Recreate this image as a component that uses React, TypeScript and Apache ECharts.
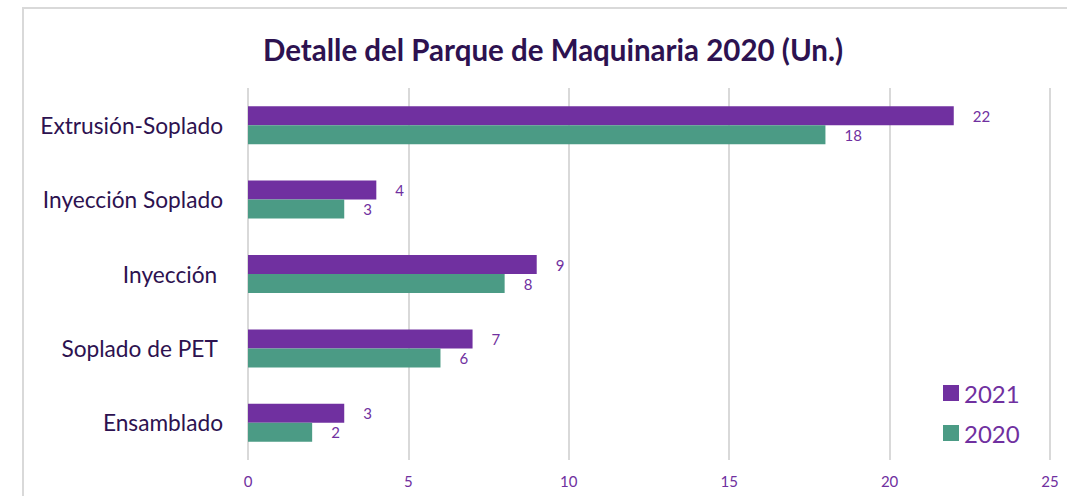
import React, { useEffect, useRef } from "react";
import * as echarts from "echarts";

const titleText = "Detalle del Parque de Maquinaria 2020 (Un.)";
const categories = ["Extrusión-Soplado", "Inyección Soplado", "Inyección ", "Soplado de PET ", "Ensamblado"];
const values2021 = [22, 4, 9, 7, 3];
const values2020 = [18, 3, 8, 6, 2];
const seriesNames = ["2021", "2020"];
const xTicks = { min: 0, max: 25, interval: 5 };

const PURPLE = "#7030a0";
const GREEN = "#4b9b85";
const FONT = "Lato, 'Noto Sans', sans-serif";

export default function App() {
  const ref = useRef<HTMLDivElement>(null);
  useEffect(() => {
    if (!ref.current) return;
    const chart = echarts.init(ref.current, undefined, { renderer: "svg" });
    const labelStyle = {
      show: true,
      position: "right" as const,
      distance: 19,
      color: PURPLE,
      fontSize: 15,
      fontFamily: FONT,
    };
    chart.setOption({
      animation: false,
      backgroundColor: "#ffffff",
      textStyle: { fontFamily: FONT },
      title: {
        text: titleText,
        left: 548,
        top: 29,
        textAlign: "center",
        textStyle: { color: "#2d1250", fontSize: 29.5, fontWeight: "bold", fontFamily: FONT },
      },
      graphic: [
        {
          type: "rect",
          shape: { x: 23, y: 8, width: 1100, height: 600 },
          style: { fill: "none", stroke: "#d9d9d9", lineWidth: 2 },
          silent: true,
        },
      ],
      legend: {
        orient: "vertical",
        left: 938,
        top: 376,
        itemWidth: 16,
        itemHeight: 16,
        itemGap: 16,
        icon: "rect",
        data: seriesNames,
        textStyle: { color: PURPLE, fontSize: 24, lineHeight: 24, fontFamily: FONT },
      },
      grid: { left: 248, right: 17, top: 88, bottom: 36, containLabel: false },
      xAxis: {
        type: "value",
        min: xTicks.min,
        max: xTicks.max,
        interval: xTicks.interval,
        axisLine: { show: false },
        axisTick: { show: false },
        axisLabel: { color: PURPLE, fontSize: 15, margin: 13, fontFamily: FONT },
        splitLine: { show: true, lineStyle: { color: "#d9d9d9", width: 2 } },
      },
      yAxis: {
        type: "category",
        data: categories,
        inverse: true,
        axisLine: { show: false },
        axisTick: { show: false },
        axisLabel: { color: "#2d1250", fontSize: 22.7, margin: 25, fontFamily: FONT },
      },
      series: [
        {
          name: seriesNames[0],
          type: "bar",
          data: values2021,
          barWidth: 19,
          barGap: "0%",
          itemStyle: { color: PURPLE },
          label: labelStyle,
        },
        {
          name: seriesNames[1],
          type: "bar",
          data: values2020,
          barWidth: 19,
          barGap: "0%",
          itemStyle: { color: GREEN },
          label: labelStyle,
        },
      ],
    });
    return () => chart.dispose();
  }, []);
  return (
    <div
      ref={ref}
      style={{ position: "fixed", left: 0, top: 0, width: 1067, height: 496 }}
    />
  );
}
